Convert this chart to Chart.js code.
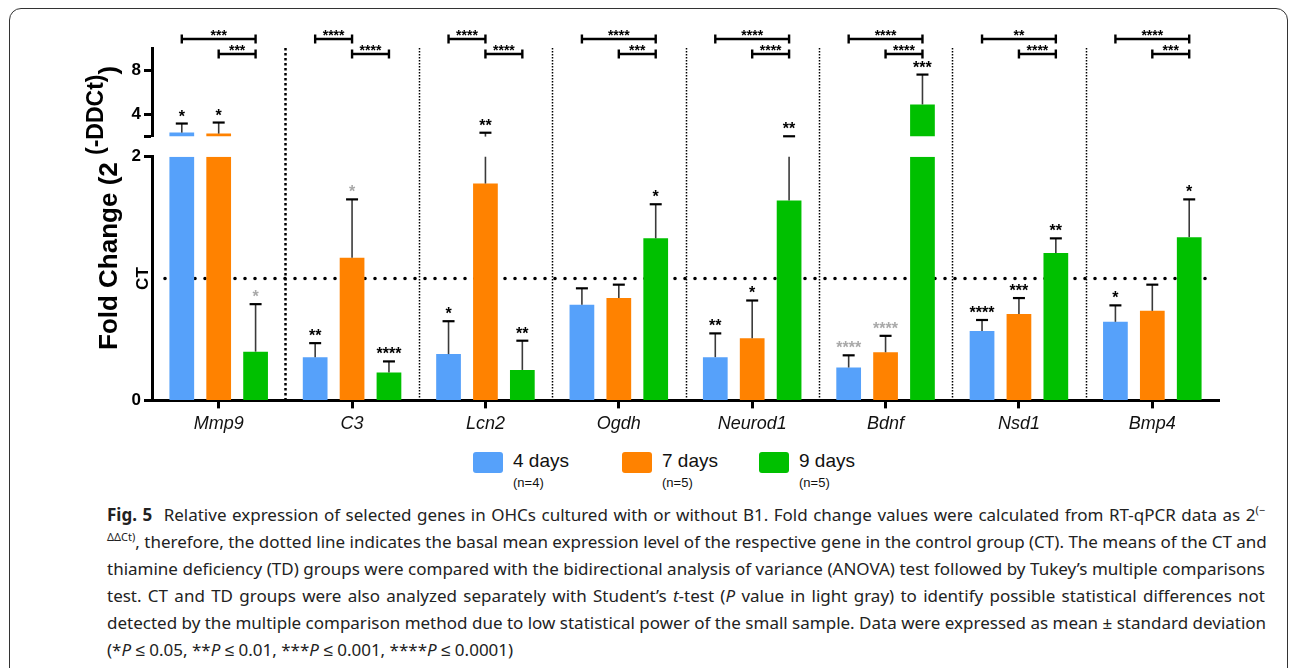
<!DOCTYPE html>
<html>
<head>
<meta charset="utf-8">
<script src="https://cdn.jsdelivr.net/npm/chart.js@4.4.0/dist/chart.umd.min.js"></script>
<style>
  html, body { margin: 0; padding: 0; background: #fff; }
  body { width: 1295px; height: 668px; position: relative; overflow: hidden; font-family: 'Liberation Sans', Arial, sans-serif; }
  .frame { position: absolute; left: 9px; top: 8px; width: 1279px; height: 720px; border: 1.5px solid #333; border-radius: 12px; box-sizing: border-box; }
  #fig { position: absolute; left: 0; top: 0; }
  .item { position: absolute; top: 452px; }
  .sw { position: absolute; left: 0; top: 0; width: 30px; height: 21px; border-radius: 3px; }
  .lab { position: absolute; left: 40px; top: -2px; font-size: 19px; white-space: nowrap; color: #111; }
  .n { position: absolute; left: 40px; top: 23px; font-size: 13px; white-space: nowrap; color: #111; }
  .caption { position: absolute; left: 107px; top: 501px; width: 1158px; font-family: 'Noto Sans', sans-serif; font-size: 17px; line-height: 27px; color: #222; }
  .caption .ln { white-space: nowrap; text-align: justify; text-align-last: justify; height: 27px; }
  .caption .ln.last { text-align-last: left; }
  .caption b { font-weight: bold; margin-right: 6px; }
  .caption sup { font-size: 11px; line-height: 0; }
</style>
</head>
<body>
<div class="frame"></div>
<canvas id="fig" width="1295" height="444"></canvas>
<div id="legend"></div>
<div class="caption">
<div class="ln"><b>Fig. 5</b> Relative expression of selected genes in OHCs cultured with or without B1. Fold change values were calculated from RT-qPCR data as 2<sup>(−</sup></div>
<div class="ln"><sup>ΔΔCt)</sup>, therefore, the dotted line indicates the basal mean expression level of the respective gene in the control group (CT). The means of the CT and</div>
<div class="ln">thiamine deficiency (TD) groups were compared with the bidirectional analysis of variance (ANOVA) test followed by Tukey’s multiple comparisons</div>
<div class="ln">test. CT and TD groups were also analyzed separately with Student’s <i>t</i>-test (<i>P</i> value in light gray) to identify possible statistical differences not</div>
<div class="ln">detected by the multiple comparison method due to low statistical power of the small sample. Data were expressed as mean ± standard deviation</div>
<div class="ln last">(*<i>P</i> ≤ 0.05, **<i>P</i> ≤ 0.01, ***<i>P</i> ≤ 0.001, ****<i>P</i> ≤ 0.0001)</div>
</div>
<script>
// Fold change per gene, three culture times
const genes = ['Mmp9', 'C3', 'Lcn2', 'Ogdh', 'Neurod1', 'Bdnf', 'Nsd1', 'Bmp4'];
const groups = ['4 days', '7 days', '9 days'];
const groupN = ['(n=4)', '(n=5)', '(n=5)'];

const mean4 = [2.36, 0.355, 0.38, 0.785, 0.355, 0.27, 0.57, 0.645];
const mean7 = [2.27, 1.17, 1.78, 0.84, 0.51, 0.395, 0.71, 0.735];
const mean9 = [0.40, 0.23, 0.25, 1.33, 1.64, 4.9, 1.21, 1.34];

const sd4 = [0.82, 0.115, 0.27, 0.135, 0.195, 0.10, 0.09, 0.135];
const sd7 = [1.0, 0.48, 0.57, 0.11, 0.31, 0.135, 0.13, 0.215];
const sd9 = [0.39, 0.09, 0.24, 0.28, 0.39, 2.7, 0.12, 0.31];

// stars over each bar, and whether they are the light gray t-test ones
const sig4 = ['*', '**', '*', '', '**', '****', '****', '*'];
const sig7 = ['*', '*', '**', '', '*', '****', '***', ''];
const sig9 = ['*', '****', '**', '*', '**', '***', '**', '*'];
const gray4 = [0, 0, 0, 0, 0, 1, 0, 0];
const gray7 = [0, 1, 0, 0, 0, 1, 0, 0];
const gray9 = [1, 0, 0, 0, 0, 0, 0, 0];

// comparison brackets on top (group index from -> to)
const outerFrom = [0, 0, 0, 0, 0, 0, 0, 0];
const outerTo = [2, 1, 1, 2, 2, 2, 2, 2];
const outerSig = ['***', '****', '****', '****', '****', '****', '**', '****'];
const innerFrom = [1, 1, 1, 1, 1, 1, 1, 1];
const innerTo = [2, 2, 2, 2, 2, 2, 2, 2];
const innerSig = ['***', '****', '****', '***', '****', '****', '****', '***'];

// broken axis: 0..2 below, 2..10 above
const lowTicks = [0, 2];
const highTicks = [2, 4, 8];
const breakAt = 2;
const topMax = 10;
const ctValue = 1;

const colors = ['#56a1fa', '#ff8200', '#00c000'];
const FONT = "'Liberation Sans', Arial, sans-serif";

const means = [mean4, mean7, mean9];
const sds = [sd4, sd7, sd9];
const sigs = [sig4, sig7, sig9];
const grays = [gray4, gray7, gray9];

const datasets = [];
means.forEach((m, s) => {
    datasets.push({
        label: groups[s],
        data: m.map(v => Math.min(v, breakAt)),
        backgroundColor: colors[s],
        yAxisID: 'y',
        stack: 'g' + s
    });
});
means.forEach((m, s) => {
    datasets.push({
        label: groups[s] + ' (upper)',
        data: m.map(v => v > breakAt ? [breakAt, v] : null),
        backgroundColor: colors[s],
        yAxisID: 'yTop',
        stack: 'g' + s
    });
});

// helper: pixel for a value on whichever part of the broken axis
function yPix(chart, v) {
    return v > breakAt ? chart.scales.yTop.getPixelForValue(v) : chart.scales.y.getPixelForValue(v);
}

const decorations = {
    id: 'decorations',
    beforeDatasetsDraw(chart) {
        const ctx = chart.ctx;
        const area = chart.chartArea;
        const x = chart.scales.x;
        ctx.save();
        // vertical dotted separators between genes
        for (let i = 0; i < genes.length - 1; i++) {
            const px = Math.round((x.getPixelForValue(i) + x.getPixelForValue(i + 1)) / 2) + 0.5;
            ctx.beginPath();
            if (i === 0) {
                ctx.lineWidth = 2.5;
                ctx.setLineDash([2.5, 2.5]);
            } else {
                ctx.lineWidth = 1.5;
                ctx.setLineDash([1.5, 1.5]);
            }
            ctx.strokeStyle = '#000';
            ctx.moveTo(px, area.top);
            ctx.lineTo(px, area.bottom);
            ctx.stroke();
        }
        // CT baseline
        const yc = chart.scales.y.getPixelForValue(ctValue);
        ctx.beginPath();
        ctx.setLineDash([0, 10]);
        ctx.lineCap = 'round';
        ctx.lineWidth = 3.6;
        ctx.moveTo(area.left + 13, yc);
        ctx.lineTo(area.right - 8, yc);
        ctx.stroke();
        ctx.restore();
    },
    afterDatasetsDraw(chart) {
        const ctx = chart.ctx;
        const area = chart.chartArea;
        const yLow = chart.scales.y;
        const yTop = chart.scales.yTop;
        ctx.save();
        ctx.textAlign = 'center';
        ctx.textBaseline = 'alphabetic';
        // error bars + stars
        means.forEach((m, s) => {
            const meta = chart.getDatasetMeta(s);
            m.forEach((v, i) => {
                const cx = meta.data[i].x;
                const top = v + sds[s][i];
                ctx.strokeStyle = '#3a3a3a';
                ctx.lineWidth = 1.6;
                if (v < breakAt) {
                    ctx.beginPath();
                    ctx.moveTo(cx, yLow.getPixelForValue(v));
                    ctx.lineTo(cx, yLow.getPixelForValue(Math.min(top, breakAt)));
                    ctx.stroke();
                }
                if (top > breakAt) {
                    ctx.beginPath();
                    ctx.moveTo(cx, yTop.getPixelForValue(Math.max(v, breakAt)));
                    ctx.lineTo(cx, yTop.getPixelForValue(top));
                    ctx.stroke();
                }
                const capY = yPix(chart, top);
                ctx.beginPath();
                ctx.strokeStyle = '#000';
                ctx.lineWidth = 2.2;
                ctx.moveTo(cx - 6, capY);
                ctx.lineTo(cx + 6, capY);
                ctx.stroke();
                if (sigs[s][i]) {
                    ctx.fillStyle = grays[s][i] ? '#a9a9a9' : '#000';
                    ctx.font = 'bold 16px ' + FONT;
                    ctx.fillText(sigs[s][i], cx, capY - 2);
                }
            });
        });
        // brackets over the plot
        const bracket = (i, a, b, label, y) => {
            const xa = chart.getDatasetMeta(a).data[i].x;
            const xb = chart.getDatasetMeta(b).data[i].x;
            ctx.strokeStyle = '#000';
            ctx.lineWidth = 2.4;
            ctx.beginPath();
            ctx.moveTo(xa, y);
            ctx.lineTo(xb, y);
            ctx.moveTo(xa, y - 4.5);
            ctx.lineTo(xa, y + 4.5);
            ctx.moveTo(xb, y - 4.5);
            ctx.lineTo(xb, y + 4.5);
            ctx.stroke();
            ctx.fillStyle = '#000';
            ctx.font = 'bold 14px ' + FONT;
            ctx.fillText(label, (xa + xb) / 2, y + 1);
        };
        genes.forEach((g, i) => {
            bracket(i, outerFrom[i], outerTo[i], outerSig[i], area.top - 9);
            bracket(i, innerFrom[i], innerTo[i], innerSig[i], area.top + 6);
        });
        ctx.restore();
    },
    afterDraw(chart) {
        const ctx = chart.ctx;
        const area = chart.chartArea;
        ctx.save();
        ctx.fillStyle = '#000';
        // CT label on the axis
        const yc = chart.scales.y.getPixelForValue(ctValue);
        ctx.translate(area.left - 4, yc);
        ctx.rotate(-Math.PI / 2);
        ctx.textAlign = 'center';
        ctx.textBaseline = 'alphabetic';
        ctx.font = 'bold 17px ' + FONT;
        ctx.fillText('CT', 0, 0);
        ctx.restore();
        // axis title with superscript
        ctx.save();
        ctx.fillStyle = '#000';
        ctx.translate(area.left - 35, 350);
        ctx.rotate(-Math.PI / 2);
        ctx.textAlign = 'left';
        ctx.textBaseline = 'alphabetic';
        ctx.font = 'bold 26px ' + FONT;
        const main = 'Fold Change (2 ';
        ctx.fillText(main, 0, 0);
        let w = ctx.measureText(main).width;
        ctx.font = 'bold 23px ' + FONT;
        const sup = '(-DDCt)';
        ctx.fillText(sup, w, -14);
        w += ctx.measureText(sup).width;
        ctx.font = 'bold 26px ' + FONT;
        ctx.fillText(')', w, 0);
        ctx.restore();
    }
};

const axisTicks = { drawOnChartArea: false, drawTicks: true, tickLength: 8, tickWidth: 3, tickColor: '#000' };

const chart = new Chart(document.getElementById('fig'), {
    type: 'bar',
    data: { labels: genes, datasets: datasets },
    options: {
        responsive: false,
        animation: false,
        categoryPercentage: 0.83,
        barPercentage: 0.67,
        layout: { padding: { left: 122, right: 76, top: 48, bottom: 4 } },
        plugins: {
            legend: { display: false },
            tooltip: { enabled: false }
        },
        scales: {
            x: {
                offset: true,
                grid: { ...axisTicks, offset: false },
                border: { color: '#000', width: 3 },
                ticks: { color: '#111', padding: 5, maxRotation: 0, font: { family: FONT, size: 18, style: 'italic' } }
            },
            y: {
                position: 'left',
                stack: 'fold',
                stackWeight: 242,
                min: 0,
                max: breakAt,
                stacked: false,
                afterBuildTicks: s => { s.ticks = lowTicks.map(v => ({ value: v })); },
                afterFit: s => { s.width = 30; },
                grid: axisTicks,
                border: { color: '#000', width: 3 },
                ticks: { color: '#000', padding: 3, font: { family: FONT, size: 17, weight: 'bold' } }
            },
            yGap: {
                position: 'left',
                stack: 'fold',
                stackWeight: 20,
                afterFit: s => { s.width = 30; },
                grid: { display: false, drawTicks: false },
                border: { display: false },
                ticks: { display: false }
            },
            yTop: {
                position: 'left',
                stack: 'fold',
                stackWeight: 88,
                min: breakAt,
                max: topMax,
                stacked: false,
                afterBuildTicks: s => { s.ticks = highTicks.map(v => ({ value: v })); },
                afterFit: s => { s.width = 30; },
                grid: axisTicks,
                border: { color: '#000', width: 3 },
                ticks: {
                    color: '#000', padding: 3,
                    font: { family: FONT, size: 17, weight: 'bold' },
                    callback: v => v === breakAt ? '' : v
                }
            }
        }
    },
    plugins: [decorations]
});

// legend with sample sizes under each label
const legendX = [473, 622, 759];
const legend = document.getElementById('legend');
groups.forEach((g, s) => {
    const item = document.createElement('div');
    item.className = 'item';
    item.style.left = legendX[s] + 'px';
    item.innerHTML = '<div class="sw" style="background:' + colors[s] + '"></div>' +
        '<div class="lab">' + g + '</div><div class="n">' + groupN[s] + '</div>';
    legend.appendChild(item);
});
</script>
</body>
</html>
